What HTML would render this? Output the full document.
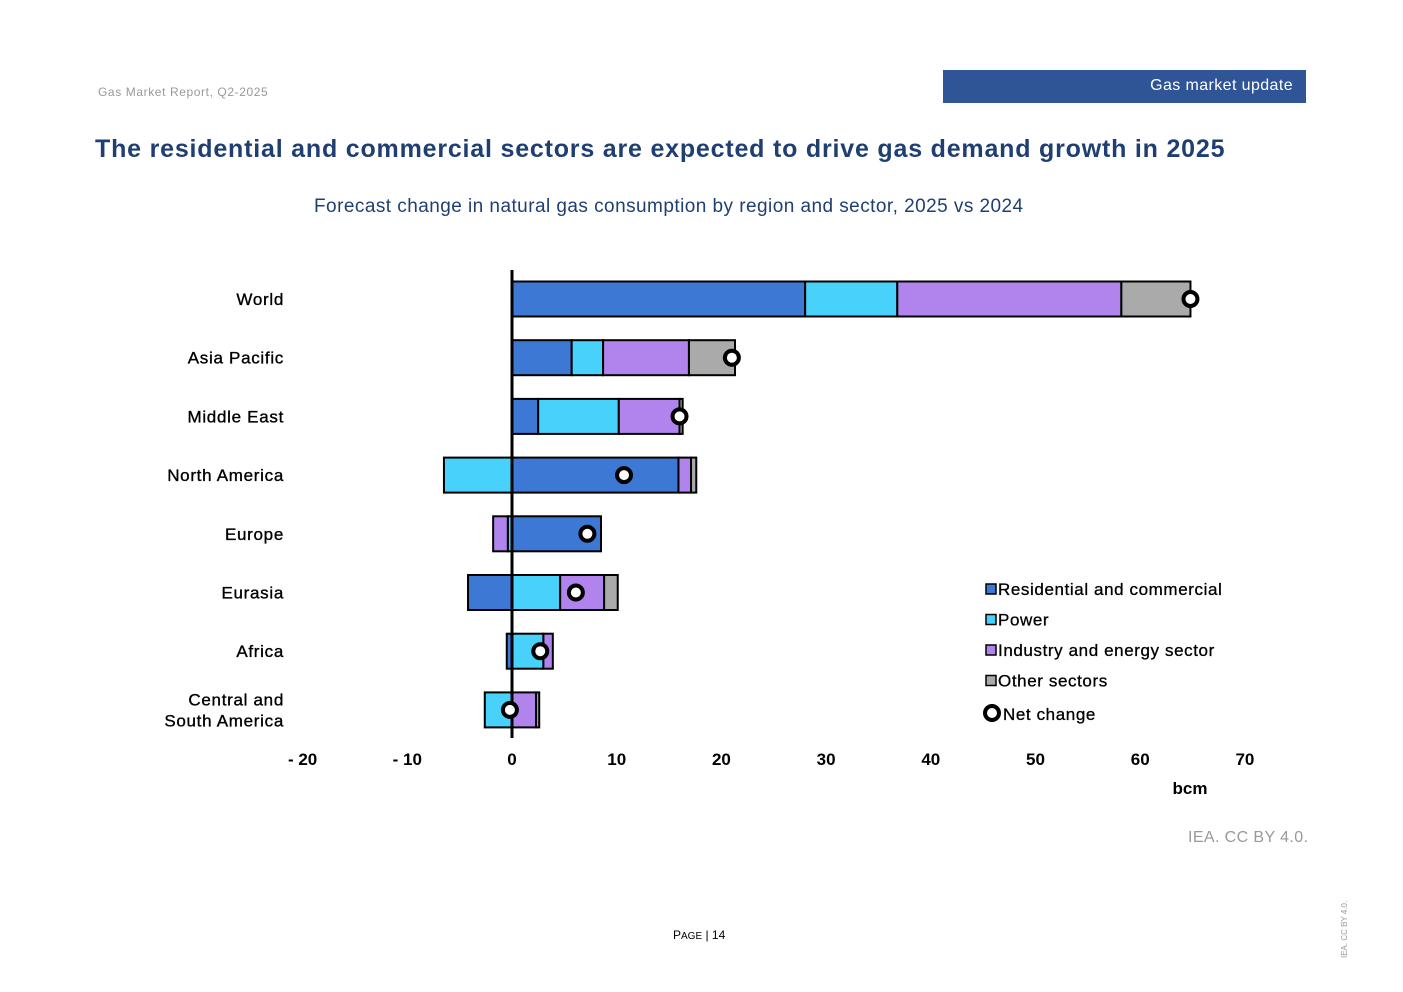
<!DOCTYPE html>
<html><head><meta charset="utf-8"><style>
body{margin:0;width:1403px;height:992px;background:#fff;font-family:"Liberation Sans",Arial,sans-serif;position:relative;overflow:hidden}
.abs{position:absolute}
</style></head><body>
<div class="abs" style="left:98px;top:85px;font-size:12px;color:#999;letter-spacing:0.6px">Gas Market Report, Q2-2025</div>
<div class="abs" style="left:943px;top:70px;width:363px;height:33px;background:#2f5597;color:#fff;font-size:16px;letter-spacing:0.4px;text-align:right;box-sizing:border-box;padding:7px 13px 0 0">Gas market update</div>
<div class="abs" style="left:95px;top:135px;font-size:25px;font-weight:bold;color:#1f3f73;letter-spacing:0.8px;white-space:nowrap">The residential and commercial sectors are expected to drive gas demand growth in 2025</div>
<div class="abs" style="left:314px;top:196px;font-size:19px;color:#1f3f73;letter-spacing:0.45px;white-space:nowrap">Forecast change in natural gas consumption by region and sector, 2025 vs 2024</div>
<div class="abs" style="left:1188px;top:829px;font-size:16px;color:#999;letter-spacing:0.4px">IEA. CC BY 4.0.</div>
<div class="abs" style="left:673px;top:928px;font-size:12px;color:#000">P<span style="font-size:10px">AGE</span> | 14</div>
<div class="abs" style="left:1340px;top:958px;font-size:8px;color:#999;transform:rotate(-90deg);transform-origin:0 0;white-space:nowrap">IEA. CC BY 4.0.</div>
<svg class="abs" style="left:0;top:0" width="1403" height="992" id="chart"></svg>
<script>
const regions=["World","Asia Pacific","Middle East","North America","Europe","Eurasia","Africa","Central and|South America"];
const residential=[28.0,5.7,2.5,15.9,8.5,-4.2,-0.5,0];
const power=[8.8,3.0,7.7,-6.5,-0.4,4.6,3.0,-2.6];
const industry=[21.4,8.2,5.8,1.2,-1.4,4.2,0.9,2.3];
const other=[6.6,4.4,0.3,0.5,0,1.3,0,0.3];
const netChange=[64.8,21,16,10.7,7.2,6.1,2.7,-0.2];
const ticks=[-20,-10,0,10,20,30,40,50,60,70];
const tickLabels=["- 20","- 10","0","10","20","30","40","50","60","70"];
const series=[residential,power,industry,other];
const colors=["#3c78d4","#48d2fb","#b084ec","#aaaaaa"];
const names=["Residential and commercial","Power","Industry and energy sector","Other sectors"];
const NS="http://www.w3.org/2000/svg";
const svg=document.getElementById('chart');
const x=v=>512+v*10.47;
const y=i=>299+i*58.7;
const bh=35;
function el(t,a,p){const e=document.createElementNS(NS,t);for(const k in a)e.setAttribute(k,a[k]);(p||svg).appendChild(e);return e;}
regions.forEach((r,i)=>{
  let pos=0,neg=0;
  series.forEach((s,k)=>{
    const v=s[i];if(!v)return;
    let a,b;
    if(v>0){a=pos;b=pos+v;pos=b;}else{a=neg+v;b=neg;neg=a;}
    const rc=el('rect',{x:x(a),y:y(i)-bh/2,width:x(b)-x(a),height:bh,fill:colors[k],stroke:'#000','stroke-width':2});
    
    
  });
  const lines=r.split('|');
  lines.forEach((l,j)=>{
    const t=el('text',{x:284,y:y(i)+6+(j-(lines.length-1)/2)*21,'text-anchor':'end','font-size':17,fill:'#000',stroke:'#000','stroke-width':0.35,'letter-spacing':0.7});
    t.textContent=l;
    
    
  });
});
const ax=el('line',{x1:x(0),x2:x(0),y1:270,y2:738,stroke:'#000','stroke-width':3});


regions.forEach((r,i)=>{
  const c=el('circle',{cx:x(netChange[i]),cy:y(i),r:7,fill:'#fff',stroke:'#000','stroke-width':4});
  
  
});
ticks.forEach((t,i)=>{
  const e=el('text',{x:x(t),y:765,'text-anchor':'middle','font-size':17,'font-weight':'bold'});
  e.textContent=tickLabels[i];
  
  
});
const u=el('text',{x:1190,y:794,'text-anchor':'middle','font-size':17,'font-weight':'bold'});
u.textContent='bcm';


names.forEach((n,k)=>{
  const g=el('g',{});
  
  
  const yy=589+k*30.5;
  el('rect',{x:986,y:yy-5,width:10,height:10,fill:colors[k],stroke:'#000','stroke-width':1.5},g);
  const t=el('text',{x:998,y:yy+6,'font-size':17,stroke:'#000','stroke-width':0.3,'letter-spacing':0.6},g);t.textContent=n;
});
const g=el('g',{});


el('circle',{cx:992,cy:713,r:7,fill:'#fff',stroke:'#000','stroke-width':4},g);
const t=el('text',{x:1003,y:720,'font-size':17,stroke:'#000','stroke-width':0.3,'letter-spacing':0.6},g);t.textContent='Net change';
</script>
</body></html>
